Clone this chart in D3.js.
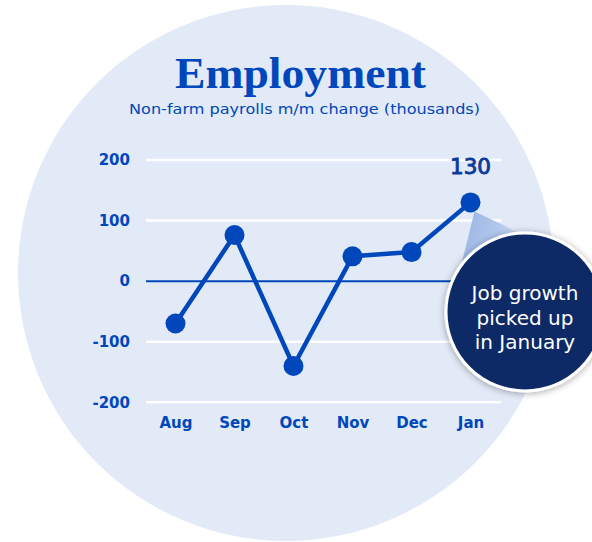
<!DOCTYPE html>
<html>
<head>
<meta charset="utf-8">
<script src="https://cdn.jsdelivr.net/npm/d3@7"></script>
<style>
  html, body { margin: 0; padding: 0; background: #ffffff; }
  svg { display: block; }
</style>
</head>
<body>
<div id="chart"></div>
<script>
// Monthly change in non-farm payrolls, thousands
const months = ["Aug", "Sep", "Oct", "Nov", "Dec", "Jan"];
const payrollChange = [-70, 76, -140, 41, 48, 130];
const yTicks = [200, 100, 0, -100, -200];
const calloutLines = ["Job growth", "picked up", "in January"];

const W = 592, H = 542;
const blue = "#0047bb";
const navy = "#0f2a66";
const sans = "'DejaVu Sans', Verdana, sans-serif";

const svg = d3.select("#chart").append("svg")
  .attr("width", W).attr("height", H);

const defs = svg.append("defs");
const shadow = defs.append("filter").attr("id", "shadow")
  .attr("x", "-30%").attr("y", "-30%").attr("width", "160%").attr("height", "160%");
shadow.append("feDropShadow").attr("dx", 0).attr("dy", 1)
  .attr("stdDeviation", 3.5).attr("flood-color", "#000").attr("flood-opacity", 0.35);

const wedgeGrad = defs.append("linearGradient").attr("id", "wedge")
  .attr("x1", 0).attr("y1", 0).attr("x2", 1).attr("y2", 0.3);
wedgeGrad.append("stop").attr("offset", "0%").attr("stop-color", "#98b4e4");
wedgeGrad.append("stop").attr("offset", "70%").attr("stop-color", "#b3c8ec");
wedgeGrad.append("stop").attr("offset", "100%").attr("stop-color", "#d6e2f5");

// Backdrop disc
svg.append("circle").attr("cx", 286).attr("cy", 273).attr("r", 268)
  .attr("fill", "#e2eaf7");

// Scales
const x = d3.scalePoint().domain(months).range([146, 500]).padding(0.5);
const y = d3.scaleLinear().domain([-200, 200]).range([402.3, 160]);
const fmt = d => String(d); // plain hyphen for negatives

// Title and subtitle
svg.append("text")
  .attr("x", 300.5).attr("y", 88)
  .attr("text-anchor", "middle")
  .attr("font-family", "'Liberation Serif', 'DejaVu Serif', serif")
  .attr("font-weight", 700)
  .attr("font-size", 45)
  .attr("fill", blue)
  .attr("textLength", 251).attr("lengthAdjust", "spacingAndGlyphs")
  .text("Employment");

svg.append("text")
  .attr("x", 304.5).attr("y", 113.5)
  .attr("text-anchor", "middle")
  .attr("font-family", sans)
  .attr("font-size", 13.5)
  .attr("fill", blue)
  .attr("textLength", 351).attr("lengthAdjust", "spacingAndGlyphs")
  .text("Non-farm payrolls m/m change (thousands)");

// Gridlines
const grid = svg.append("g");
grid.selectAll("line").data(yTicks.filter(d => d !== 0)).join("line")
  .attr("x1", 146).attr("x2", 501)
  .attr("y1", d => y(d)).attr("y2", d => y(d))
  .attr("stroke", "#ffffff").attr("stroke-width", 2.5);

// Y axis labels
const yAxis = svg.append("g").attr("transform", "translate(146,0)")
  .call(d3.axisLeft(y).tickValues(yTicks).tickFormat(fmt).tickSize(0).tickPadding(16));
yAxis.select(".domain").remove();
yAxis.selectAll("text")
  .attr("font-family", sans)
  .attr("font-weight", 700)
  .attr("font-size", 15)
  .attr("fill", blue);

// X axis labels
const xAxis = svg.append("g").attr("transform", "translate(0,412)")
  .call(d3.axisBottom(x).tickSize(0).tickPadding(5));
xAxis.select(".domain").remove();
xAxis.selectAll("text")
  .attr("font-family", sans)
  .attr("font-weight", 700)
  .attr("font-size", 15)
  .attr("fill", blue);

// Zero line
svg.append("line")
  .attr("x1", 146).attr("x2", 501)
  .attr("y1", y(0)).attr("y2", y(0))
  .attr("stroke", blue).attr("stroke-width", 2);

// Series line and points
const data = months.map((m, i) => ({ m, v: payrollChange[i] }));
svg.append("path").datum(data)
  .attr("fill", "none")
  .attr("stroke", blue)
  .attr("stroke-width", 4.5)
  .attr("stroke-linejoin", "round")
  .attr("d", d3.line().x(d => x(d.m)).y(d => y(d.v)));

svg.append("g").selectAll("circle").data(data).join("circle")
  .attr("cx", d => x(d.m)).attr("cy", d => y(d.v))
  .attr("r", 10).attr("fill", blue);

// Value label on the latest month
const last = data[data.length - 1];
svg.append("text")
  .attr("x", x(last.m)).attr("y", y(last.v) - 28)
  .attr("text-anchor", "middle")
  .attr("font-family", sans)
  .attr("font-size", 21.5)
  .attr("fill", "#0d3a9c")
  .attr("stroke", "#0d3a9c").attr("stroke-width", 0.9)
  .text(fmt(last.v));

// Callout bubble with pointer wedge
const cx = 525, cy = 312, cr = 79;
const ax = x(last.m) + 4, ay = y(last.v) + 9;
const ang1 = -Math.PI * 0.80, ang2 = -Math.PI * 0.52;
svg.append("path")
  .attr("d", `M${ax},${ay} L${cx + cr * Math.cos(ang1)},${cy + cr * Math.sin(ang1)} L${cx + cr * Math.cos(ang2)},${cy + cr * Math.sin(ang2)} Z`)
  .attr("fill", "url(#wedge)");

svg.append("circle")
  .attr("cx", cx).attr("cy", cy).attr("r", cr)
  .attr("fill", navy)
  .attr("stroke", "#ffffff").attr("stroke-width", 3)
  .attr("filter", "url(#shadow)");

svg.append("g").selectAll("text").data(calloutLines).join("text")
  .attr("x", cx).attr("y", (d, i) => 300 + i * 24.5)
  .attr("text-anchor", "middle")
  .attr("font-family", sans)
  .attr("font-size", 20)
  .attr("fill", "#ffffff")
  .text(d => d);
</script>
</body>
</html>
